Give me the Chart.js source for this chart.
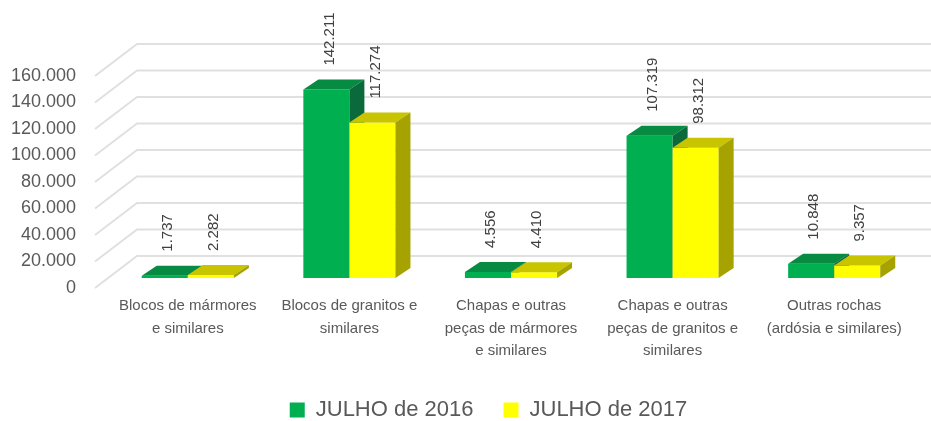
<!DOCTYPE html>
<html>
<head>
<meta charset="utf-8">
<script src="https://cdn.jsdelivr.net/npm/chart.js@4.4.0/dist/chart.umd.min.js"></script>
<style>
  html, body { margin: 0; padding: 0; background: #fff; }
  #wrap { width: 931px; height: 421px; position: relative; }
</style>
</head>
<body>
<div id="wrap"><canvas id="myChart"></canvas></div>
<script>
// categorias (quebradas em linhas como no original)
var categories = [
  ['Blocos de mármores', 'e similares'],
  ['Blocos de granitos e', 'similares'],
  ['Chapas e outras', 'peças de mármores', 'e similares'],
  ['Chapas e outras', 'peças de granitos e', 'similares'],
  ['Outras rochas', '(ardósia e similares)']
];
var seriesNames = ['JULHO de 2016', 'JULHO de 2017'];
var julho2016 = [1737, 142211, 4556, 107319, 10848];
var julho2017 = [2282, 117274, 4410, 98312, 9357];
var yTicks = [0, 20000, 40000, 60000, 80000, 100000, 120000, 140000, 160000];

// cores das faces (frente, topo, lado)
var cores = [
  { front: '#00B050', top: '#078a41', side: '#0a6a3c' },
  { front: '#FFFF00', top: '#c8c400', side: '#a6a300' }
];

var plane = { dx: 12, dy: -10 };  // plano das barras em relação ao eixo
var depth = { dx: 15, dy: -10 };  // profundidade da barra
var wall = { dx: 42, dy: -32 };   // parede do fundo

function fmt(v) {
  return String(v).replace(/\B(?=(\d{3})+(?!\d))/g, '.');
}

function poly(ctx, pts, color) {
  ctx.fillStyle = color;
  ctx.beginPath();
  ctx.moveTo(pts[0][0], pts[0][1]);
  for (var k = 1; k < pts.length; k++) ctx.lineTo(pts[k][0], pts[k][1]);
  ctx.closePath();
  ctx.fill();
}

// desenha grade e barras 3D
var barras3d = {
  id: 'barras3d',
  afterLayout: function (chart) {
    // legenda um pouco à direita e abaixo, como no original
    chart.legend.left += 37;
    chart.legend.right += 37;
    chart.legend.top += 14;
    chart.legend.bottom += 14;
  },
  beforeDatasetsDraw: function (chart) {
    var ctx = chart.ctx, area = chart.chartArea, ys = chart.scales.y;
    ctx.save();

    ctx.strokeStyle = '#e0e0e0';
    ctx.lineWidth = 2;
    yTicks.forEach(function (v) {
      var py = ys.getPixelForValue(v);
      ctx.beginPath();
      ctx.moveTo(area.left, py);
      ctx.lineTo(area.left + wall.dx, py + wall.dy);
      ctx.lineTo(chart.width, py + wall.dy);
      ctx.stroke();
    });

    var metas = [chart.getDatasetMeta(0), chart.getDatasetMeta(1)];
    for (var i = 0; i < categories.length; i++) {
      metas.forEach(function (meta, d) {
        var el = meta.data[i];
        var x0 = el.x - el.width / 2 + plane.dx;
        var x1 = el.x + el.width / 2 + plane.dx;
        var yt = el.y + plane.dy;
        var yb = el.base + plane.dy;
        var c = cores[d];
        poly(ctx, [[x0, yt], [x1, yt], [x1, yb], [x0, yb]], c.front);
        poly(ctx, [[x0, yt], [x1, yt], [x1 + depth.dx, yt + depth.dy], [x0 + depth.dx, yt + depth.dy]], c.top);
        poly(ctx, [[x1, yt], [x1 + depth.dx, yt + depth.dy], [x1 + depth.dx, yb + depth.dy], [x1, yb]], c.side);
      });
    }

    // rótulos de dados
    ctx.fillStyle = '#404040';
    ctx.font = '15px "Liberation Sans", Arial, sans-serif';
    ctx.textAlign = 'left';
    ctx.textBaseline = 'middle';
    metas.forEach(function (meta, d) {
      var vals = chart.data.datasets[d].data;
      meta.data.forEach(function (el, i) {
        ctx.save();
        ctx.translate(el.x + plane.dx + 3, el.y + plane.dy - 24);
        ctx.rotate(-Math.PI / 2);
        ctx.fillText(fmt(vals[i]), 0, 0);
        ctx.restore();
      });
    });

    ctx.restore();
    return false;
  }
};

var ctx = document.getElementById('myChart').getContext('2d');

var myChart = new Chart(ctx, {
  type: 'bar',
  data: {
    labels: categories,
    datasets: [
      { label: seriesNames[0], data: julho2016, backgroundColor: cores[0].front, borderWidth: 0,
        categoryPercentage: 0.57, barPercentage: 1 },
      { label: seriesNames[1], data: julho2017, backgroundColor: cores[1].front, borderWidth: 0,
        categoryPercentage: 0.57, barPercentage: 1 }
    ]
  },
  options: {
    responsive: true,
    maintainAspectRatio: false,
    animation: false,
    layout: { padding: { left: 0, right: 28, top: 76, bottom: 4 } },
    plugins: {
      legend: {
        position: 'bottom',
        labels: {
          boxWidth: 15,
          boxHeight: 15,
          padding: 30,
          color: '#595959',
          font: { family: '"Liberation Sans", Arial, sans-serif', size: 22 }
        }
      },
      tooltip: { enabled: false }
    },
    scales: {
      x: {
        grid: { display: false, drawTicks: false },
        border: { display: false },
        ticks: {
          color: '#595959',
          font: { family: '"Liberation Sans", Arial, sans-serif', size: 15, lineHeight: 1.5 },
          padding: 7,
          labelOffset: 12,
          maxRotation: 0,
          autoSkip: false
        },
        afterFit: function (s) { s.height = 67; }
      },
      y: {
        min: 0,
        max: 160000,
        grid: { display: false, drawTicks: false },
        border: { display: false },
        ticks: {
          stepSize: 20000,
          padding: 19,
          autoSkip: false,
          color: '#595959',
          font: { family: '"Liberation Sans", Arial, sans-serif', size: 18 },
          callback: function (v) { return fmt(v); }
        },
        afterFit: function (s) { s.width = 95; }
      }
    }
  },
  plugins: [barras3d]
});
</script>
</body>
</html>
